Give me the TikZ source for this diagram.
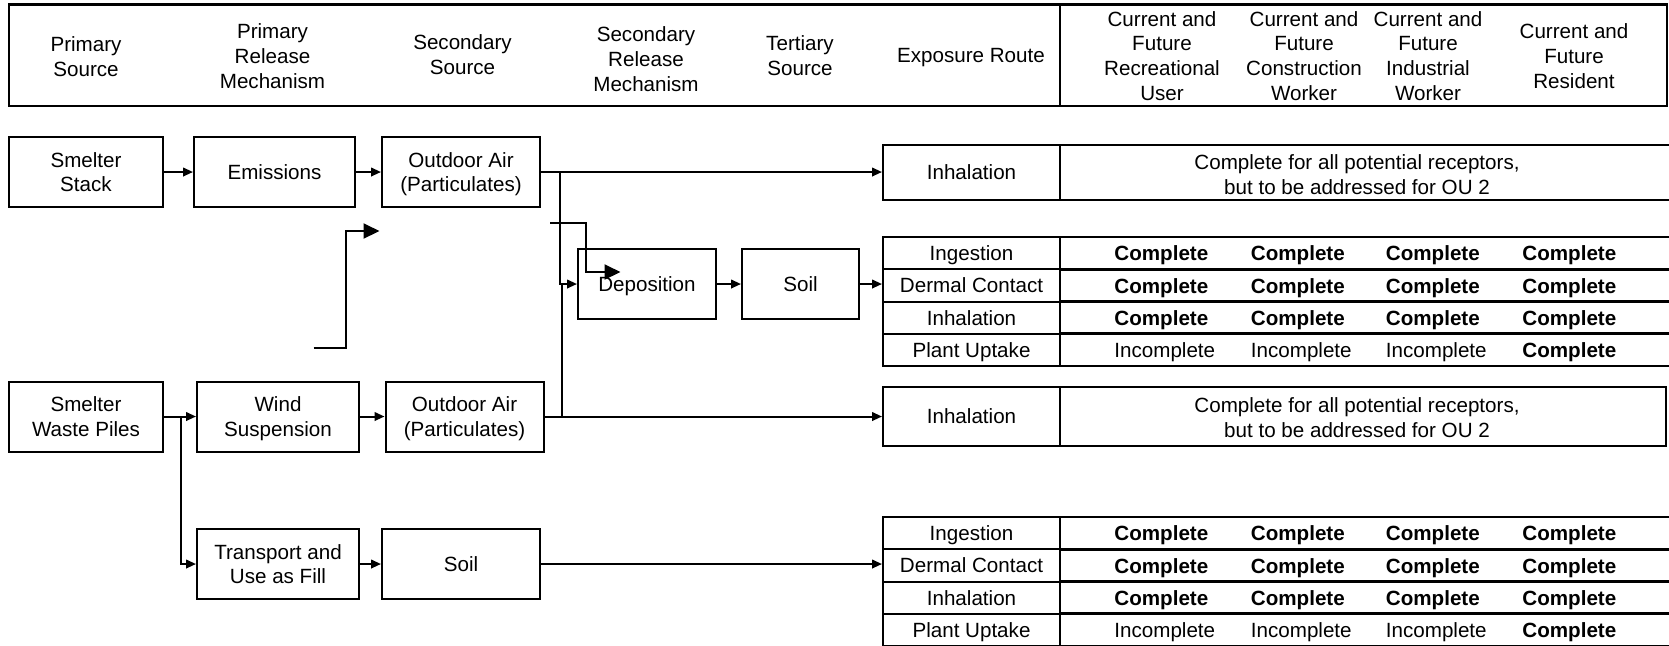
\documentclass[tikz,border=0pt]{standalone}
\usepackage{fontspec}
\setmainfont{Liberation Sans}
\usetikzlibrary{arrows.meta}

\begin{document}
\begin{tikzpicture}[x=0.5pt,y=-0.5pt,
  font=\fontsize{10.3}{12.4}\selectfont,
  pbox/.style 2 args={draw, line width=1pt, minimum width=#1*0.5pt,
    minimum height=#2*0.5pt, inner sep=0pt, align=center, text depth=0pt},
  lbl/.style={inner sep=0pt, align=center},
  flow/.style={line width=1pt, -{Triangle[length=5pt,width=4.3pt]}},
  bigflow/.style={line width=1pt, -{Triangle[length=8pt,width=7.5pt]}},
  wire/.style={line width=1pt},
  grid/.style={line width=1.4pt},
  ok/.style={font=\fontsize{10.3}{12.4}\selectfont\bfseries, anchor=west,
    inner sep=0pt, text depth=0pt},
  nok/.style={anchor=west, inner sep=0pt, text depth=0pt},
]
\useasboundingbox (0,0) rectangle (1669,645);

% ---------- column headings ----------
\node[pbox={1658}{101.5}, line width=1.3pt] (hdr) at (838,55.25) {};
\draw[line width=1.3pt] (1060,4.5) -- (1060,106);
\node[lbl] (h1) at (86,57)    {Primary\\Source};
\node[lbl] (h2) at (272.5,56) {Primary\\Release\\Mechanism};
\node[lbl] (h3) at (462.5,55) {Secondary\\Source};
\node[lbl] (h4) at (646,59)   {Secondary\\Release\\Mechanism};
\node[lbl] (h5) at (800,55.5) {Tertiary\\Source};
\node[lbl] (h6) at (971,58)   {Exposure Route};
\node[lbl] (h7) at (1162,56)  {Current and\\Future\\Recreational\\User};
\node[lbl] (h8) at (1304,56)  {Current and\\Future\\Construction\\Worker};
\node[lbl] (h9) at (1428,56)  {Current and\\Future\\Industrial\\Worker};
\node[lbl] (h10) at (1574,56) {Current and\\Future\\Resident};

% ---------- sources and mechanisms ----------
\node[pbox={154}{70}] (ss)    at (86,172)    {Smelter\\Stack};
\node[pbox={161}{70}] (em)    at (274.5,172) {Emissions};
\node[pbox={158}{70}] (oa1)   at (461,172)   {Outdoor Air\\(Particulates)};
\node[pbox={154}{70}] (swp)   at (86,416.5)  {Smelter\\Waste Piles};
\node[pbox={162}{70}] (ws)    at (278,416.5) {Wind\\Suspension};
\node[pbox={158}{70}] (oa2)   at (464.5,416.5) {Outdoor Air\\(Particulates)};
\node[pbox={138}{70}] (dep)   at (647,284)   {Deposition};
\node[pbox={117}{70}] (soil1) at (800.5,284) {Soil};
\node[pbox={162}{70}] (tp)    at (278,564)   {Transport and\\Use as Fill};
\node[pbox={158}{70}] (soil2) at (461,564)   {Soil};

% ---------- exposure routes: inhalation of particulates ----------
\node[pbox={177}{55}] (inh1) at (971.5,172.5) {Inhalation};
\draw[grid] (1060,145) -- (1669,145);
\draw[grid] (1060,200) -- (1669,200);
\draw[grid] (1060,145) -- (1060,200);
\node[lbl] (inh1r) at (1357,175) {Complete for all potential receptors,\\but to be addressed for OU 2};

\node[pbox={177}{59}] (inh2) at (971.5,416.5) {Inhalation};
\draw[grid] (1060,387) rectangle (1666,446);
\node[lbl] (inh2r) at (1357,418) {Complete for all potential receptors,\\but to be addressed for OU 2};

% ---------- exposure routes: soil tables ----------
\foreach \tb/\top in {t1/237, t2/517}{
  \foreach \route [count=\i] in {Ingestion, Dermal Contact, Inhalation, Plant Uptake}{
    \node[pbox={177}{32.25}] (\tb\i) at (971.5,\top+16.125+32.25*\i-32.25) {\route};
    \draw[grid] (1060,\top+32.25*\i-32.25) -- (1669,\top+32.25*\i-32.25);
    \ifnum\i<4
      \foreach \cx [count=\j] in {1114,1250.5,1385.5,1522}{
        \node[ok] (\tb\i c\j) at (\cx,\top+16.5+32.25*\i-32.25) {Complete};
      }
    \else
      \foreach \cx [count=\j] in {1114,1250.5,1385.5}{
        \node[nok] (\tb\i c\j) at (\cx,\top+16.5+32.25*\i-32.25) {Incomplete};
      }
      \node[ok] (\tb\i c4) at (1522,\top+16.5+32.25*\i-32.25) {Complete};
    \fi
  }
  \draw[grid] (1060,\top+129) -- (1669,\top+129);
  \draw[grid] (1060,\top) -- (1060,\top+129);
}

% ---------- transport pathways ----------
\draw[flow] (ss.east) -- (em.west);
\draw[flow] (em.east) -- (oa1.west);
\draw[flow] (oa1.east) -- (oa1.east -| inh1.west);
\coordinate (j1) at (559.5,172);
\draw[flow] (j1) |- (dep.west);
\coordinate (j2) at (561.5,284);
\draw[wire] (j2) -- (j2 |- oa2.east);
\draw[flow] (oa2.east) -- (inh2.west);
\draw[flow] (dep.east) -- (soil1.west);
\draw[flow] (soil1.east) -- (soil1.east -| t12.west);

\draw[flow] (swp.east) -- (ws.west);
\draw[flow] (ws.east) -- (oa2.west);
\coordinate (j3) at (181,416.5);
\draw[flow] (j3) |- (tp.west);
\draw[flow] (tp.east) -- (soil2.west);
\draw[flow] (soil2.east) -- (soil2.east -| t22.west);

% loose elbow arrows
\coordinate (s1) at (313.5,347.7);
\coordinate (s1e) at (379.5,231);
\draw[bigflow] (s1) -- (346,347.7) -- (346,231) -- (s1e);
\coordinate (s2) at (550,223.3);
\coordinate (s2e) at (620.5,272);
\draw[bigflow] (s2) -- (586,223.3) -- (586,272) -- (s2e);
\end{tikzpicture}
\end{document}
